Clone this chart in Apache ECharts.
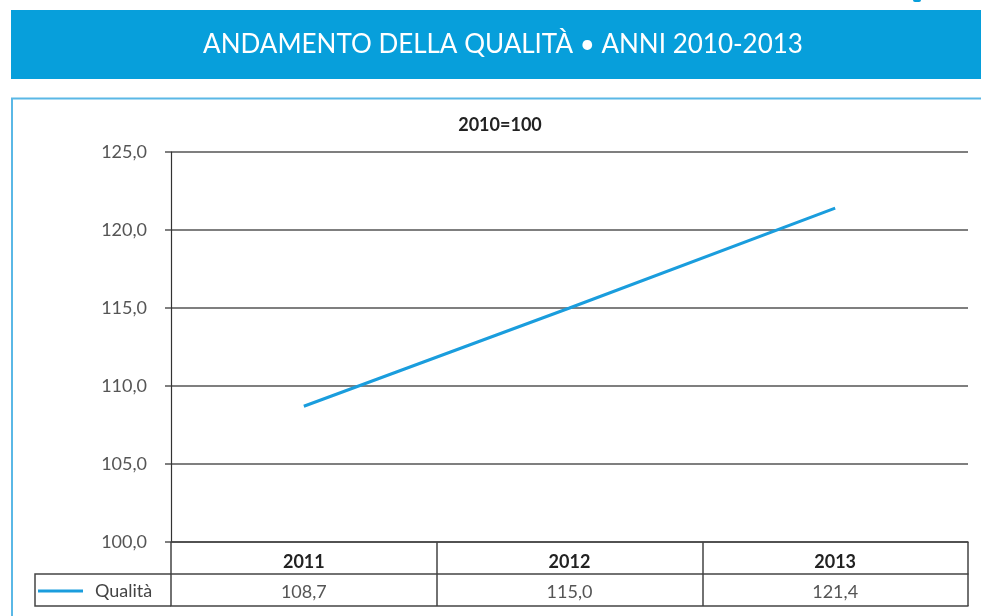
<!DOCTYPE html>
<html lang="it">
<head>
<meta charset="UTF-8">
<title>Andamento della qualità</title>
<style>
  html, body { margin: 0; padding: 0; background: #fff; }
  #main { width: 981px; height: 616px; }
</style>
</head>
<body>
<div id="main"></div>
<script src="https://cdn.jsdelivr.net/npm/echarts@6/dist/echarts.min.js"></script>
<script type="text/javascript">
// dati
var anni = ['2011', '2012', '2013'];
var qualita = [108.7, 115.0, 121.4];
var yTicks = [100, 105, 110, 115, 120, 125];

function virgola(v, d) {
    return v.toFixed(d).replace('.', ',');
}

var font = 'Lato, "Open Sans", sans-serif';
var lineaTab = { color: '#444', width: 1.5 };

var myChart = echarts.init(document.getElementById('main'));

var option = {
    animation: false,
    textStyle: { fontFamily: font },
    grid: { left: 171, right: 13, top: 152, bottom: 74 },
    legend: {
        data: ['Qualità'],
        left: 38, top: 582, padding: 0,
        icon: 'rect',
        itemWidth: 45, itemHeight: 3,
        textStyle: { fontSize: 18, color: '#444', fontFamily: font, padding: [0, 0, 0, 7] }
    },
    xAxis: [{
        // riga anni
        type: 'category', data: anni, position: 'bottom',
        axisLine: { lineStyle: lineaTab },
        axisTick: { show: true, interval: 0, length: 32, lineStyle: lineaTab },
        axisLabel: { fontSize: 18, fontWeight: 'bold', color: '#222', margin: 11, fontFamily: font }
    }, {
        // riga valori
        type: 'category', data: anni, position: 'bottom', offset: 32,
        axisLine: { lineStyle: lineaTab },
        axisTick: { show: true, interval: 0, length: 32, lineStyle: lineaTab },
        axisLabel: {
            fontSize: 18, color: '#555', margin: 9, fontFamily: font,
            formatter: function (v, i) { return virgola(qualita[i], 1); }
        }
    }, {
        type: 'category', data: anni, position: 'bottom', offset: 64,
        axisLine: { lineStyle: lineaTab },
        axisTick: { show: false }, axisLabel: { show: false }
    }],
    yAxis: {
        type: 'value', min: yTicks[0], max: yTicks[yTicks.length - 1], interval: 5,
        axisLine: { show: true, lineStyle: { color: '#333', width: 1.2 } },
        axisTick: { show: true, length: 6, lineStyle: { color: '#555', width: 1.5 } },
        splitLine: { lineStyle: { color: '#555', width: 1.5 } },
        axisLabel: {
            fontSize: 18, color: '#555', margin: 24, fontFamily: font,
            formatter: function (v) { return virgola(v, 1); }
        }
    },
    series: [{
        name: 'Qualità',
        type: 'line',
        data: qualita,
        symbol: 'none',
        lineStyle: { color: '#1a9ddd', width: 3 },
        itemStyle: { color: '#1a9ddd' }
    }],
    graphic: [
        { type: 'rect', shape: { x: 11, y: 10, width: 980, height: 69 }, style: { fill: '#079fdb' }, silent: true },
        { type: 'rect', shape: { x: 913, y: -2, width: 8, height: 4, r: 2 }, style: { fill: '#079fdb' }, silent: true },
        { type: 'rect', shape: { x: 12, y: 98.5, width: 1000, height: 600 }, style: { fill: 'none', stroke: '#5ab8e6', lineWidth: 2 }, silent: true },
        { type: 'text', x: 503, y: 45, style: { text: 'ANDAMENTO DELLA QUALITÀ • ANNI 2010-2013', fill: '#fff', font: '26px ' + font, align: 'center', verticalAlign: 'middle' }, silent: true },
        { type: 'text', x: 500, y: 125, style: { text: '2010=100', fill: '#222', font: 'bold 18px ' + font, align: 'center', verticalAlign: 'middle' }, silent: true },
        // cella legenda
        { type: 'polyline', shape: { points: [[171, 574], [35, 574], [35, 606], [171, 606]] }, style: { fill: 'none', stroke: '#444', lineWidth: 1.5 }, silent: true }
    ]
};

myChart.setOption(option);
</script>
</body>
</html>
